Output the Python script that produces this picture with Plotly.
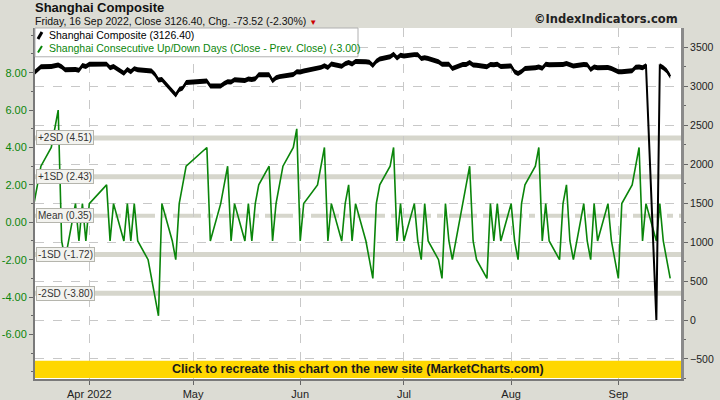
import plotly.graph_objects as go

dates = ["2022-03-16","2022-03-17","2022-03-18","2022-03-21","2022-03-22","2022-03-23","2022-03-24","2022-03-25",
"2022-03-28","2022-03-29","2022-03-30","2022-03-31","2022-04-01","2022-04-06","2022-04-07","2022-04-08",
"2022-04-11","2022-04-12","2022-04-13","2022-04-14","2022-04-15","2022-04-18","2022-04-19","2022-04-20",
"2022-04-21","2022-04-22","2022-04-25","2022-04-26","2022-04-27","2022-04-28","2022-04-29","2022-05-05",
"2022-05-06","2022-05-09","2022-05-10","2022-05-11","2022-05-12","2022-05-13","2022-05-16","2022-05-17",
"2022-05-18","2022-05-19","2022-05-20","2022-05-23","2022-05-24","2022-05-25","2022-05-26","2022-05-27",
"2022-05-30","2022-05-31","2022-06-01","2022-06-02","2022-06-06","2022-06-07","2022-06-08","2022-06-09",
"2022-06-10","2022-06-13","2022-06-14","2022-06-15","2022-06-16","2022-06-17","2022-06-20","2022-06-21",
"2022-06-22","2022-06-23","2022-06-24","2022-06-27","2022-06-28","2022-06-29","2022-06-30","2022-07-01",
"2022-07-04","2022-07-05","2022-07-06","2022-07-07","2022-07-08","2022-07-11","2022-07-12","2022-07-13",
"2022-07-14","2022-07-15","2022-07-18","2022-07-19","2022-07-20","2022-07-21","2022-07-22","2022-07-25",
"2022-07-26","2022-07-27","2022-07-28","2022-07-29","2022-08-01","2022-08-02","2022-08-03","2022-08-04",
"2022-08-05","2022-08-08","2022-08-09","2022-08-10","2022-08-11","2022-08-12","2022-08-15","2022-08-16",
"2022-08-17","2022-08-18","2022-08-19","2022-08-22","2022-08-23","2022-08-24","2022-08-25","2022-08-26",
"2022-08-29","2022-08-30","2022-08-31","2022-09-01","2022-09-02","2022-09-05","2022-09-06","2022-09-07",
"2022-09-08","2022-09-09","2022-09-12","2022-09-13","2022-09-14","2022-09-15","2022-09-16"]

composite = [3170.71,3215.04,3251.07,3253.69,3259.86,3271.03,3250.26,3212.24,
3214.50,3203.94,3266.60,3252.20,3282.72,3283.43,3236.70,3251.85,
3167.13,3213.33,3186.82,3225.64,3211.24,3195.52,3194.03,3151.05,
3079.81,3086.92,2928.51,2886.43,2958.28,2975.48,3047.06,3067.76,
3001.56,3004.14,3035.84,3058.70,3054.99,3084.28,3073.75,3093.70,
3085.98,3096.96,3146.57,3146.86,3070.93,3107.46,3123.11,3130.24,
3149.06,3186.43,3182.16,3195.46,3236.37,3241.76,3263.79,3238.95,
3284.83,3255.55,3288.91,3305.41,3285.38,3316.79,3315.43,3306.72,
3267.20,3320.15,3349.75,3379.19,3409.21,3361.52,3398.62,3387.64,
3405.43,3404.03,3355.35,3364.40,3356.08,3313.58,3281.47,3284.29,
3281.74,3228.06,3278.10,3279.43,3304.72,3272.00,3269.97,3250.39,
3277.44,3275.76,3282.58,3253.24,3259.96,3186.27,3163.67,3189.04,
3227.03,3236.93,3247.43,3230.02,3281.67,3276.89,3276.09,3277.88,
3292.53,3277.54,3258.08,3277.79,3276.22,3215.20,3246.25,3236.22,
3240.73,3227.22,3202.14,3184.98,3186.48,3199.91,3243.45,3246.29,
3235.59,3262.05,0.0,3263.80,3237.54,3199.92,3126.40]

updown = [1,2,3,4,5,6,-1,-2,
1,-1,1,-1,1,2,-1,1,
-1,1,-1,1,-1,-2,-3,-4,
-5,1,-1,-2,1,2,3,4,
-1,1,2,3,-1,1,-1,1,
-1,1,2,3,-1,1,2,3,
4,5,-1,1,2,3,4,-1,
1,-1,1,2,-1,1,-1,-2,
-3,1,2,3,4,-1,1,-1,
1,-1,-2,1,-1,-2,-3,1,
-1,-2,1,2,3,-1,-2,-3,
1,-1,1,-1,1,-1,-2,1,
2,3,4,-1,1,-1,-2,1,
2,-1,-2,1,-1,-2,1,-1,
1,-1,-2,-3,1,2,3,4,
-1,1,-1,1,-1,-2,-3]

band_names = ["+2SD", "+1SD", "Mean", "-1SD", "-2SD"]
band_values = [4.51, 2.43, 0.35, -1.72, -3.80]

month_ticks = ["2022-04-01","2022-05-01","2022-06-01","2022-07-01","2022-08-01","2022-09-01"]
month_labels = ["Apr 2022","May","Jun","Jul","Aug","Sep"]

left_ticks = [-6, -4, -2, 0, 2, 4, 6, 8]
left_labels = ["-6.00","-4.00","-2.00","0.00","2.00","4.00","6.00","8.00"]

FONT = "Liberation Sans"
GREEN = "#0a850a"
BAND = "#d6d6cc"
LINE_HALF = 32  # half visual thickness of the composite stroke, in index points

fig = go.Figure()

# composite drawn as a flat-nib stroke (vertical thickness)
fig.add_trace(go.Scatter(x=dates, y=[v + LINE_HALF for v in composite], yaxis="y2",
                         mode="lines", line=dict(width=0, color="black"),
                         showlegend=False, hoverinfo="skip"))
fig.add_trace(go.Scatter(x=dates, y=[v - LINE_HALF for v in composite], yaxis="y2",
                         mode="lines", line=dict(width=0, color="black"),
                         fill="tonexty", fillcolor="black",
                         showlegend=False, hoverinfo="skip"))
fig.add_trace(go.Scatter(x=dates, y=composite, yaxis="y2", mode="lines",
                         line=dict(width=2, color="black"), name="Shanghai Composite",
                         showlegend=False))
fig.add_trace(go.Scatter(x=dates, y=updown, yaxis="y", mode="lines",
                         line=dict(width=1.6, color=GREEN), name="Up/Down Days",
                         showlegend=False))

shapes = []
annotations = []
for name, val in zip(band_names, band_values):
    if name == "Mean":
        shapes.append(dict(type="line", xref="paper", x0=0, x1=1, yref="y", y0=val, y1=val,
                           line=dict(color=BAND, width=4, dash="28px,6px,6px,6px"), layer="below"))
    else:
        shapes.append(dict(type="line", xref="paper", x0=0, x1=1, yref="y", y0=val, y1=val,
                           line=dict(color=BAND, width=5), layer="below"))
    annotations.append(dict(xref="paper", yref="y", x=0.002, y=val, xanchor="left", yanchor="middle",
                            text=f"{name} ({val:.2f})", showarrow=False,
                            font=dict(family=FONT, size=10, color="#333"),
                            bgcolor="#f3f3ef", bordercolor="#b5b5ad", borderwidth=1, borderpad=1))

# legend box
shapes.append(dict(type="rect", xref="paper", yref="paper", x0=0, x1=0.5, y0=0.918, y1=1.0,
                   fillcolor="white", line=dict(color="#b0b0b0", width=1), layer="above"))
shapes.append(dict(type="line", xref="paper", yref="paper", x0=0.0046, y0=0.9687, x1=0.0108, y1=0.9886,
                   line=dict(color="black", width=3), layer="above"))
shapes.append(dict(type="line", xref="paper", yref="paper", x0=0.0046, y0=0.9300, x1=0.0108, y1=0.9490,
                   line=dict(color=GREEN, width=2), layer="above"))
annotations.append(dict(xref="paper", yref="paper", x=0.0186, y=0.980, xanchor="left", yanchor="middle",
                        text="Shanghai Composite (3126.40)", showarrow=False,
                        font=dict(family=FONT, size=10.5, color="black")))
annotations.append(dict(xref="paper", yref="paper", x=0.0186, y=0.942, xanchor="left", yanchor="middle",
                        text="Shanghai Consecutive Up/Down Days (Close - Prev. Close) (-3.00)", showarrow=False,
                        font=dict(family=FONT, size=10.5, color=GREEN)))

# yellow banner
shapes.append(dict(type="rect", xref="paper", yref="paper", x0=0, x1=1, y0=0.003, y1=0.052,
                   fillcolor="#ffd700", line=dict(width=0), layer="above"))
annotations.append(dict(xref="paper", yref="paper", x=0.5, y=0.0275, xanchor="center", yanchor="middle",
                        text="<b>Click to recreate this chart on the new site (MarketCharts.com)</b>",
                        showarrow=False, font=dict(family=FONT, size=12.5, color="#1a1a1a")))

# titles
annotations.append(dict(xref="paper", yref="paper", x=-0.0015, y=1.0584, xanchor="left", yanchor="middle",
                        text="<b>Shanghai Composite</b>", showarrow=False, borderpad=0,
                        font=dict(family=FONT, size=13, color="#111")))
annotations.append(dict(xref="paper", yref="paper", x=-0.0015, y=1.0205, xanchor="left", yanchor="middle",
                        text="Friday, 16 Sep 2022, Close 3126.40, Chg. -73.52 (-2.30%) "
                             "<span style='color:#cc0000;font-size:8px'>▼</span>",
                        showarrow=False, borderpad=0,
                        font=dict(family=FONT, size=10.5, color="#111")))
annotations.append(dict(xref="paper", yref="paper", x=0.9985, y=1.025, xanchor="right", yanchor="middle",
                        text="<b>©IndexIndicators.com</b>", showarrow=False,
                        font=dict(family="DejaVu Sans", size=11.5, color="#222")))

fig.update_layout(
    width=720, height=400,
    margin=dict(l=35, r=39, t=28, b=21, autoexpand=False),
    paper_bgcolor="#dcdcd4", plot_bgcolor="white",
    font=dict(family=FONT, size=10.5, color="#222"),
    showlegend=False,
    shapes=shapes, annotations=annotations,
    xaxis=dict(type="date", range=["2022-03-16 07:00", "2022-09-19 03:00"],
               tickvals=month_ticks, ticktext=month_labels, automargin=False,
               showgrid=True, gridcolor="#c8c8c8", griddash="dash", gridwidth=1,
               ticks="outside", ticklen=4, tickcolor="#666",
               showline=True, linecolor="#7a7a7a", linewidth=2,
               tickfont=dict(family=FONT, size=11, color="#222"), zeroline=False),
    yaxis=dict(range=[-8.38, 10.39], tickvals=left_ticks, ticktext=left_labels,
               showgrid=False, zeroline=False, automargin=False,
               ticks="outside", ticklen=4, tickcolor="#666",
               minor=dict(ticks="outside", ticklen=2, dtick=1, tickcolor="#666", showgrid=False),
               showline=True, linecolor="#7a7a7a", linewidth=2,
               tickfont=dict(family=FONT, size=11, color=GREEN)),
    yaxis2=dict(range=[-757, 3747], overlaying="y", side="right",
                dtick=500, tick0=0, automargin=False,
                showgrid=True, gridcolor="#c8c8c8", griddash="dash", gridwidth=1, zeroline=False,
                ticks="outside", ticklen=4, tickcolor="#666",
                minor=dict(ticks="outside", ticklen=2, dtick=250, tickcolor="#666", showgrid=False),
                showline=True, linecolor="#8a8a8a", linewidth=3,
                tickfont=dict(family=FONT, size=10.5, color="#222")),
)

fig.write_html("out.html", config={"displayModeBar": False},
               post_script="document.body.style.margin='0';document.body.style.padding='0';"
                           "document.body.style.overflow='hidden';")
